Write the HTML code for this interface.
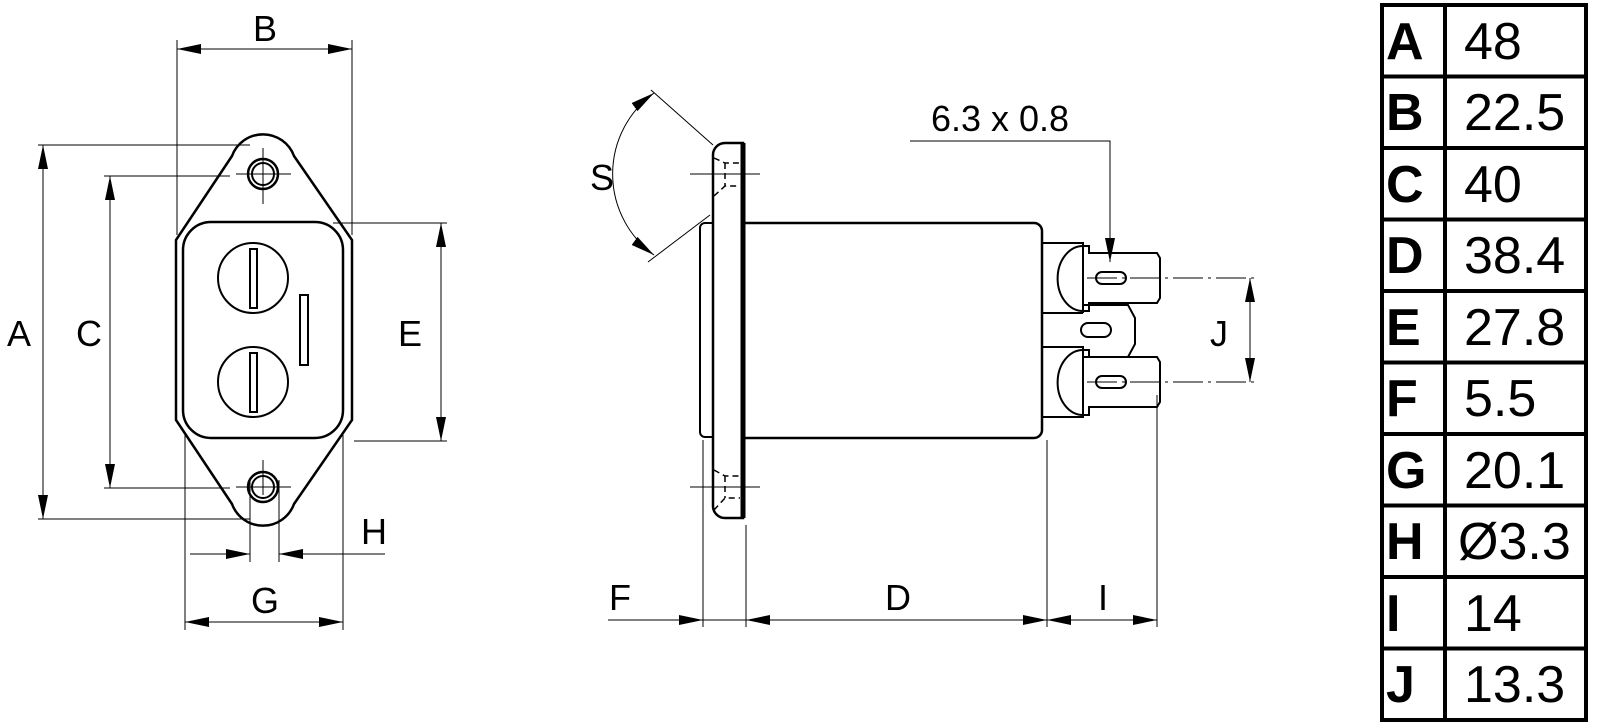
<!DOCTYPE html>
<html><head><meta charset="utf-8"><style>
html,body{margin:0;padding:0;background:#fff;}
svg{display:block;}
text{font-family:"Liberation Sans",sans-serif;fill:#000;}
</style></head><body>
<svg width="1600" height="728" viewBox="0 0 1600 728" xmlns="http://www.w3.org/2000/svg">
<defs>
<marker id="ar" markerWidth="24" markerHeight="10" refX="24" refY="5" orient="auto-start-reverse" markerUnits="userSpaceOnUse">
<path d="M0,0 L24,5 L0,10 Z" fill="#000"/></marker>
</defs>
<rect width="1600" height="728" fill="#fff"/>
<g fill="none" stroke="#000">
<!-- Left view outline -->
<path stroke-width="2.5" d="M232,156 A33,33 0 0 1 294,156 L352,240 L352,420 L294,504 A33,33 0 0 1 232,504 L176,420 L176,240 Z"/>
<rect x="183" y="222" width="160" height="216" rx="28" stroke-width="2.5"/>
<circle cx="253" cy="278" r="35" stroke-width="2"/>
<circle cx="253" cy="382" r="35" stroke-width="2"/>
<rect x="250" y="249" width="7" height="59" stroke-width="2"/>
<rect x="250" y="353" width="7" height="59" stroke-width="2"/>
<rect x="300" y="295" width="8" height="70" stroke-width="2"/>
<circle cx="263" cy="174" r="15" stroke-width="2.5"/>
<circle cx="263" cy="174" r="11" stroke-width="2"/>
<circle cx="263" cy="487" r="15" stroke-width="2.5"/>
<circle cx="263" cy="487" r="11" stroke-width="2"/>
<g stroke-width="1">
<line x1="236" y1="174" x2="291" y2="174"/><line x1="263" y1="148" x2="263" y2="204"/>
<line x1="236" y1="487" x2="291" y2="487"/><line x1="263" y1="460" x2="263" y2="495"/>
<!-- A -->
<line x1="38" y1="145" x2="250" y2="145"/><line x1="38" y1="519" x2="250" y2="519"/>
<line x1="43" y1="145" x2="43" y2="519" marker-start="url(#ar)" marker-end="url(#ar)"/>
<!-- C -->
<line x1="104" y1="176" x2="230" y2="176"/><line x1="104" y1="488" x2="230" y2="488"/>
<line x1="110" y1="176" x2="110" y2="488" marker-start="url(#ar)" marker-end="url(#ar)"/>
<!-- B -->
<line x1="177" y1="40" x2="177" y2="235"/><line x1="352" y1="40" x2="352" y2="235"/>
<line x1="177" y1="49" x2="352" y2="49" marker-start="url(#ar)" marker-end="url(#ar)"/>
<!-- E -->
<line x1="333" y1="223" x2="447" y2="223"/><line x1="354" y1="441" x2="447" y2="441"/>
<line x1="441" y1="223" x2="441" y2="441" marker-start="url(#ar)" marker-end="url(#ar)"/>
<!-- G -->
<line x1="185" y1="435" x2="185" y2="630"/><line x1="343" y1="435" x2="343" y2="630"/>
<line x1="185" y1="622" x2="343" y2="622" marker-start="url(#ar)" marker-end="url(#ar)"/>
<!-- H -->
<line x1="250" y1="480" x2="250" y2="562"/><line x1="279" y1="480" x2="279" y2="562"/>
<line x1="190" y1="554" x2="250" y2="554" marker-end="url(#ar)"/>
<line x1="385" y1="554" x2="279" y2="554" marker-end="url(#ar)"/>
</g>

<!-- Side view -->
<rect x="700" y="223" width="20" height="214" rx="5" stroke-width="2"/>
<path d="M743,143 L725,143 A12,12 0 0 0 713,155 L713,506 A12,12 0 0 0 725,518 L743,518 Z" fill="#fff" stroke-width="2.5"/>
<line x1="743" y1="143" x2="743" y2="518" stroke-width="5"/>
<path d="M743,223 L1034,223 A8,8 0 0 1 1042,231 L1042,430 A8,8 0 0 1 1034,438 L743,438" stroke-width="2.5"/>
<g stroke-width="1.5" stroke-dasharray="6,4">
<path d="M714,158 L725,163 L740,163 M725,163 L725,186 M714,196 L725,186 L740,186"/>
<path d="M714,470 L725,476 L740,476 M725,476 L725,498 M714,510 L725,498 L740,498"/>
</g>
<g stroke-width="1">
<line x1="690" y1="174" x2="760" y2="174"/><line x1="690" y1="487" x2="760" y2="487"/>
</g>
<!-- terminals -->
<g stroke-width="2">
<path d="M1042,243 L1083,243 L1083,313 M1042,313 L1083,313 M1042,347 L1083,347 L1083,417 L1042,417"/>
<path d="M1083,246 A25,32 0 0 0 1083,311" />
<path d="M1083,350 A25,32 0 0 0 1083,415" />
<path d="M1083,246 L1089,246 L1089,253 L1157,253 L1160,258 L1160,298 L1157,303 L1089,303 L1089,311 L1083,311"/>
<path d="M1083,305 L1128,305 L1135,318 L1135,344 L1128,357 L1083,357"/>
<path d="M1083,350 L1089,350 L1089,357 L1157,357 L1160,362 L1160,402 L1157,407 L1089,407 L1089,415 L1083,415"/>
<rect x="1096" y="272" width="30" height="12" rx="6"/>
<rect x="1081" y="323" width="30" height="14" rx="7"/>
<rect x="1096" y="376" width="30" height="12" rx="6"/>
</g>
<g stroke-width="1">
<line x1="1087" y1="278" x2="1255" y2="278" stroke-dasharray="30,5,3,5"/>
<line x1="1087" y1="382" x2="1255" y2="382" stroke-dasharray="30,5,3,5"/>
<line x1="1250" y1="278" x2="1250" y2="382" marker-start="url(#ar)" marker-end="url(#ar)"/>
<!-- 6.3x0.8 leader -->
<polyline points="910,141 1110,141 1110,262" marker-end="url(#ar)"/>
<!-- S -->
<line x1="651" y1="90" x2="713" y2="145"/><line x1="648" y1="262" x2="710" y2="215"/>
<path d="M654,93 A100,100 0 0 0 654,255" marker-start="url(#ar)" marker-end="url(#ar)"/>
<!-- F D I -->
<line x1="703" y1="440" x2="703" y2="627"/><line x1="746" y1="525" x2="746" y2="627"/>
<line x1="1047" y1="440" x2="1047" y2="627"/><line x1="1157" y1="395" x2="1157" y2="627"/>
<line x1="608" y1="620" x2="703" y2="620" marker-end="url(#ar)"/>
<line x1="703" y1="620" x2="746" y2="620"/>
<line x1="746" y1="620" x2="1047" y2="620" marker-start="url(#ar)" marker-end="url(#ar)"/>
<line x1="1047" y1="620" x2="1157" y2="620" marker-start="url(#ar)" marker-end="url(#ar)"/>
</g>

<!-- table -->
<rect x="1382" y="5" width="204" height="715" stroke-width="4"/>
<line x1="1445" y1="5" x2="1445" y2="720" stroke-width="4"/>
<g stroke-width="4">
<line x1="1382" y1="76.5" x2="1586" y2="76.5"/><line x1="1382" y1="148" x2="1586" y2="148"/>
<line x1="1382" y1="219.5" x2="1586" y2="219.5"/><line x1="1382" y1="291" x2="1586" y2="291"/>
<line x1="1382" y1="362.5" x2="1586" y2="362.5"/><line x1="1382" y1="434" x2="1586" y2="434"/>
<line x1="1382" y1="505.5" x2="1586" y2="505.5"/><line x1="1382" y1="577" x2="1586" y2="577"/>
<line x1="1382" y1="648.5" x2="1586" y2="648.5"/>
</g>
</g>

<g font-size="36">
<text x="19" y="346" text-anchor="middle">A</text>
<text x="89" y="346" text-anchor="middle">C</text>
<text x="265" y="41" text-anchor="middle">B</text>
<text x="410" y="346" text-anchor="middle">E</text>
<text x="265" y="613" text-anchor="middle">G</text>
<text x="374" y="544" text-anchor="middle">H</text>
<text x="602" y="190" text-anchor="middle">S</text>
<text x="1219" y="346" text-anchor="middle">J</text>
<text x="620" y="610" text-anchor="middle">F</text>
<text x="898" y="610" text-anchor="middle">D</text>
<text x="1103" y="610" text-anchor="middle">I</text>
<text x="1000" y="131" text-anchor="middle">6.3 x 0.8</text>
</g>
<g font-size="52">
<g font-weight="bold">
<text x="1386" y="59">A</text><text x="1386" y="130">B</text><text x="1386" y="202">C</text>
<text x="1386" y="273">D</text><text x="1386" y="345">E</text><text x="1386" y="416">F</text>
<text x="1386" y="488">G</text><text x="1386" y="559">H</text><text x="1386" y="631">I</text>
<text x="1386" y="702">J</text>
</g>
<text x="1464" y="59">48</text><text x="1464" y="130">22.5</text><text x="1464" y="202">40</text>
<text x="1464" y="273">38.4</text><text x="1464" y="345">27.8</text><text x="1464" y="416">5.5</text>
<text x="1464" y="488">20.1</text><text x="1458" y="559">Ø3.3</text><text x="1464" y="631">14</text>
<text x="1464" y="702">13.3</text>
</g>
</svg>
</body></html>
